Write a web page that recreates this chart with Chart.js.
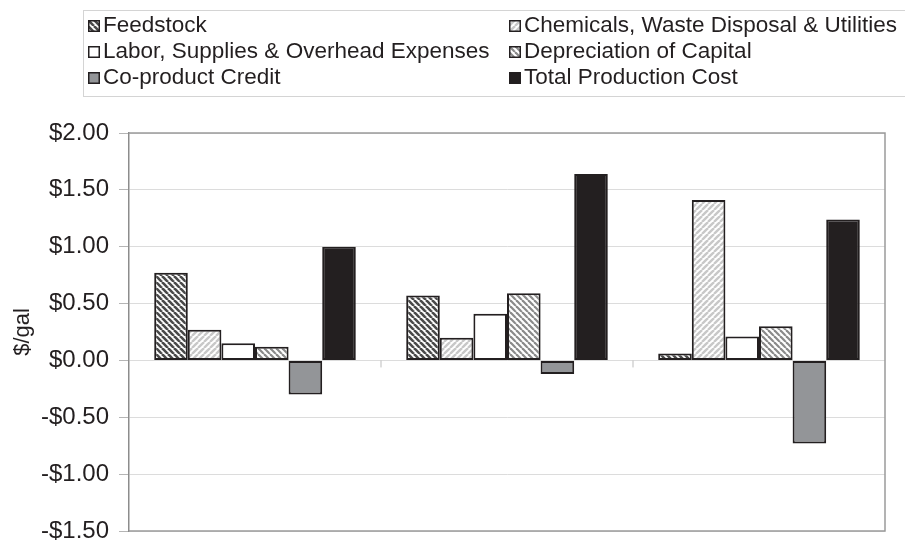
<!DOCTYPE html>
<html>
<head>
<meta charset="utf-8">
<script src="https://cdn.jsdelivr.net/npm/chart.js@4/dist/chart.umd.min.js"></script>
<style>
  html, body { margin: 0; padding: 0; background: #fff; }
  #wrap { position: relative; width: 905px; height: 542px; overflow: hidden; }
  #c { position: absolute; left: 0; top: 0; }
  #legend {
    position: absolute; left: 83px; top: 10px; width: 840px; height: 87px;
    border: 1px solid #d4d4d4; box-sizing: border-box;
    font-family: "Liberation Sans", Arial, sans-serif; font-size: 22.5px; color: #231f20;
  }
  .item { position: absolute; height: 26px; line-height: 26px; white-space: nowrap; }
  .item canvas { position: absolute; left: 0; top: 8px; }
  .item span { position: absolute; left: 15px; top: 0; }
</style>
</head>
<body>
<div id="wrap">
  <canvas id="c" width="905" height="542"></canvas>
  <div id="legend"></div>
</div>
<script>
const categories = ['1', '2', '3'];
const seriesNames = ['Feedstock', 'Chemicals, Waste Disposal & Utilities', 'Labor, Supplies & Overhead Expenses', 'Depreciation of Capital', 'Co-product Credit', 'Total Production Cost'];
const feedstock = [0.77, 0.57, 0.06];
const chemicals = [0.27, 0.20, 1.41];
const labor = [0.15, 0.41, 0.21];
const depreciation = [0.12, 0.59, 0.30];
const coproduct = [-0.30, -0.12, -0.73];
const total = [1.00, 1.64, 1.24];
const yTicks = [-1.5, -1.0, -0.5, 0, 0.5, 1.0, 1.5, 2.0];

function stripeTile(color, dir, width, bg) {
  const s = 6;
  const t = document.createElement('canvas');
  t.width = s; t.height = s;
  const g = t.getContext('2d');
  g.fillStyle = bg; g.fillRect(0, 0, s, s);
  g.strokeStyle = color; g.lineWidth = width;
  for (let x = -s; x <= s; x += s) {
    g.beginPath();
    if (dir === '\\') { g.moveTo(x, 0); g.lineTo(x + s, s); }
    else { g.moveTo(x, s); g.lineTo(x + s, 0); }
    g.stroke();
  }
  return t;
}
const ctx = document.getElementById('c').getContext('2d');
const tiles = [
  stripeTile('#4a4a4a', '\\', 2.6, '#ffffff'),
  stripeTile('#c8c8c8', '/', 2.4, '#ffffff'),
  null,
  stripeTile('#8a8a8a', '\\', 2.2, '#ffffff'),
  null, null
];
const solid = [null, null, '#ffffff', null, '#939598', '#231f20'];
function fillFor(i, c) { return tiles[i] ? c.createPattern(tiles[i], 'repeat') : solid[i]; }

const values = [feedstock, chemicals, labor, depreciation, coproduct, total];
const datasets = values.map((v, i) => ({
  label: seriesNames[i],
  data: v,
  backgroundColor: fillFor(i, ctx),
  borderColor: '#231f20',
  borderWidth: 2,
  borderSkipped: false,
  categoryPercentage: 0.8,
  barPercentage: 1.0
}));

const frame = {
  id: 'frame',
  afterDatasetsDraw(chart) {
    const a = chart.chartArea, c = chart.ctx;
    c.save();
    c.strokeStyle = '#9a9a9a'; c.lineWidth = 1.5;
    c.beginPath();
    c.moveTo(a.left, a.top); c.lineTo(a.right, a.top); c.lineTo(a.right, a.bottom); c.lineTo(a.left, a.bottom);
    c.stroke();
    const y0 = chart.scales.y.getPixelForValue(0);
    const xs = chart.scales.x;
    c.strokeStyle = '#bdbdbd'; c.lineWidth = 1;
    for (let i = 1; i < categories.length; i++) {
      const px = (xs.getPixelForValue(i - 1) + xs.getPixelForValue(i)) / 2;
      c.beginPath(); c.moveTo(px, y0); c.lineTo(px, y0 + 7); c.stroke();
    }
    c.restore();
  }
};

new Chart(ctx, {
  type: 'bar',
  data: { labels: categories, datasets },
  options: {
    responsive: false,
    animation: false,
    layout: { padding: { top: 133, right: 20, bottom: 11, left: 0 } },
    plugins: { legend: { display: false }, tooltip: { enabled: false } },
    scales: {
      x: { display: false, offset: true, grid: { display: false } },
      y: {
        min: -1.5, max: 2.0,
        afterFit(s) { s.width = 129; s.paddingTop = 0; s.paddingBottom = 0; },
        afterBuildTicks(s) { s.ticks = yTicks.map(v => ({ value: v })); },
        ticks: {
          color: '#231f20', padding: 10,
          font: { family: '"Liberation Sans", Arial, sans-serif', size: 24 },
          callback: v => (v < 0 ? '-$' : '$') + Math.abs(v).toFixed(2)
        },
        grid: { color: '#dcdcdc', tickColor: '#b5b5b5', tickLength: 10, lineWidth: 1 },
        border: { display: true, color: '#8c8c8c', width: 1.5 },
        title: {
          display: true, text: '$/gal', color: '#231f20',
          font: { family: '"Liberation Sans", Arial, sans-serif', size: 22 },
          padding: { top: 10, bottom: 6 }
        }
      }
    }
  },
  plugins: [frame]
});

// legend
const legend = document.getElementById('legend');
const pos = [[4, 1], [425, 1], [4, 27], [425, 27], [4, 53], [425, 53]];
const order = [0, 1, 2, 3, 4, 5];
order.forEach((idx, k) => {
  const d = document.createElement('div');
  d.className = 'item';
  d.style.left = pos[k][0] + 'px';
  d.style.top = pos[k][1] + 'px';
  const sw = document.createElement('canvas');
  sw.width = 12; sw.height = 12;
  const g = sw.getContext('2d');
  g.fillStyle = fillFor(idx, g);
  g.fillRect(0, 0, 12, 12);
  g.strokeStyle = '#231f20'; g.lineWidth = 1.5;
  g.strokeRect(0.75, 0.75, 10.5, 10.5);
  const sp = document.createElement('span');
  sp.textContent = seriesNames[idx];
  d.appendChild(sw); d.appendChild(sp);
  legend.appendChild(d);
});
</script>
</body>
</html>
